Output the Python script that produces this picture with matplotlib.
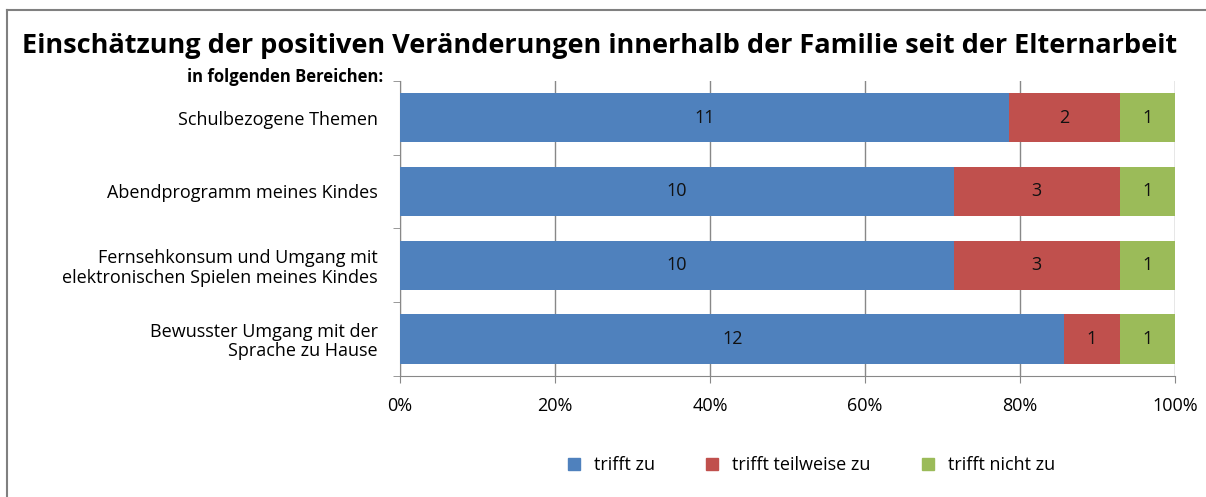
import numpy as np
import matplotlib.pyplot as plt
from matplotlib.lines import Line2D

categories = ["Schulbezogene Themen",
              "Abendprogramm meines Kindes",
              "Fernsehkonsum und Umgang mit\nelektronischen Spielen meines Kindes",
              "Bewusster Umgang mit der\nSprache zu Hause"]
trifft_zu = [11, 10, 10, 12]
trifft_teilweise = [2, 3, 3, 1]
trifft_nicht = [1, 1, 1, 1]
series_names = ["trifft zu", "trifft teilweise zu", "trifft nicht zu"]
colors = ["#4F81BD", "#C0504D", "#9BBB59"]

plt.rcParams['font.family'] = ['Open Sans', 'DejaVu Sans']

fig = plt.figure(figsize=(12.06, 4.97), dpi=100)
ax = fig.add_axes([0.3317, 0.2435, 0.6426, 0.5941])

data = np.array([trifft_zu, trifft_teilweise, trifft_nicht], dtype=float)
totals = data.sum(axis=0)
pct = data / totals * 100
y = np.arange(len(categories))
left = np.zeros(len(categories))
for i in range(3):
    bars = ax.barh(y, pct[i], left=left, height=0.67, color=colors[i],
                   label=series_names[i], zorder=3)
    for j, b in enumerate(bars):
        ax.text(left[j] + pct[i][j] / 2, y[j], str(int(data[i][j])),
                ha='center', va='center', fontsize=13, color='#111111', zorder=4)
    left += pct[i]

ax.set_xlim(0, 100)
ax.set_ylim(len(categories) - 0.5, -0.5)
ax.set_xticks(np.arange(0, 101, 20))
ax.set_xticklabels([f"{v}%" for v in range(0, 101, 20)], fontsize=13)
ax.set_yticks(y)
ax.set_yticklabels(categories, fontsize=13, linespacing=1.1)
ax.set_yticks(np.arange(-0.5, len(categories)), minor=True)
ax.tick_params(axis='y', which='major', length=0, pad=16)
ax.tick_params(axis='y', which='minor', length=5, color='#888888')
ax.tick_params(axis='x', length=5, color='#888888', pad=10)
ax.grid(axis='x', color='#888888', linewidth=1, zorder=0)
for s in ['top', 'right']:
    ax.spines[s].set_visible(False)
for s in ['left', 'bottom']:
    ax.spines[s].set_color('#888888')
for lbl in ax.get_yticklabels():
    lbl.set_multialignment('right')

fig.text(0.018, 0.907, "Einschätzung der positiven Veränderungen innerhalb der Familie seit der Elternarbeit",
         fontsize=19.5, fontweight='bold', va='center', ha='left')
fig.text(0.318, 0.845, "in folgenden Bereichen:", fontsize=12, fontweight='bold',
         ha='right', va='center')

handles = [Line2D([], [], marker='s', linestyle='none', markersize=9, color=c) for c in colors]
fig.legend(handles, series_names, loc='center', bbox_to_anchor=(0.668, 0.064), ncol=3,
           frameon=False, fontsize=13, handletextpad=0.1, columnspacing=2.2)

# chart frame (cut at right and bottom)
fig.add_artist(Line2D([0.006, 0.006], [0.0, 0.98], color='#808080', linewidth=1.5, transform=fig.transFigure))
fig.add_artist(Line2D([0.006, 1.0], [0.98, 0.98], color='#808080', linewidth=1.5, transform=fig.transFigure))

fig.savefig("out.png", dpi=100)
